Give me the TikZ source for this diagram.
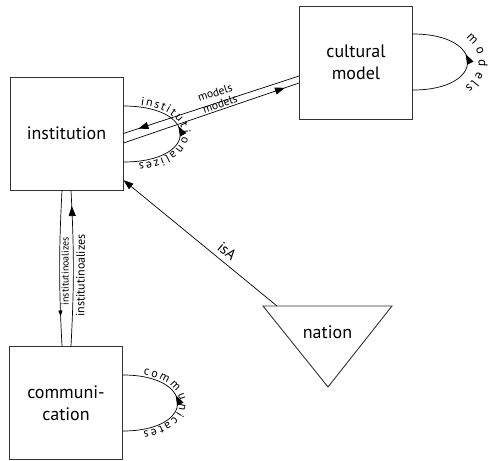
\documentclass[tikz,border=0pt]{standalone}
\usepackage{fontspec}
\setmainfont{PT Sans}
\usetikzlibrary{arrows.meta,decorations.markings,decorations.text}

\begin{document}
\begin{tikzpicture}[x=1pt,y=-1pt,
  box/.style={draw=black!80, line width=0.9pt, minimum width=113pt, minimum height=113pt,
    inner sep=0pt, align=center, font=\fontsize{18}{22}\selectfont},
  conn/.style={draw=black, line width=0.7pt},
  bigtip/.style={postaction={decorate}, decoration={markings,
    mark=at position #1 with {\arrow{Triangle[length=10pt,width=7pt]}}}},
  smalltip/.style={postaction={decorate}, decoration={markings,
    mark=at position #1 with {\arrow{Triangle[length=6pt,width=4pt]}}}},
  lbl/.style={font=\fontsize{11.5}{13}\selectfont, inner sep=1pt},
  looptext/.style n args={4}{decorate, decoration={text along path,
    text={|\fontsize{12}{14}\selectfont|#1},
    text align={left indent=#2, right indent=#3, fit to path}, raise=#4}},
  looptextc/.style n args={2}{decorate, decoration={text along path,
    text={|\fontsize{13}{15}\selectfont|#1},
    text align=center, raise=#2}}
]
\useasboundingbox (0,0) rectangle (491,461);

% concept boxes
\node[box] (inst) at (66.5,133.5) {institution};
\node[box] (cult) at (356,62.5) {cultural\\model};
\node[box] (comm) at (66,403) {communi-\\cation};

% the nation triangle
\coordinate (natL) at (263,306);
\coordinate (natR) at (392,306);
\coordinate (natB) at (328,387);
\draw[black!80, line width=0.9pt] (natL) -- (natR) -- (natB) -- cycle;
\node[font=\fontsize{18}{22}\selectfont, inner sep=0pt] (nation) at (327.5,332) {nation};
\coordinate (isafoot) at (277,306);

% isA
\draw[conn, -{Triangle[length=10pt,width=7pt]}] (isafoot) -- (inst)
  node[font=\fontsize{15}{17}\selectfont, inner sep=1pt, pos=0.37, sloped, above=4pt] {isA};

% models, both ways between institution and cultural model
\draw[conn, bigtip=0.915] ([yshift=-13.5pt]cult.west) -- (inst.east)
  node[lbl, pos=0.46, sloped, above=5pt] {models};
\draw[conn, bigtip=0.92] ([yshift=-9.5pt]inst.east) -- ([yshift=-20.5pt]cult.west)
  node[lbl, pos=0.56, sloped, above=0pt] {models};

% institutinoalizes, both ways between institution and communication
\draw[conn, smalltip=0.81] ([xshift=-4.5pt]inst.south) to[bend right=3]
  node[pos=0.52, rotate=90, anchor=north, inner sep=1.5pt, font=\fontsize{10}{11}\selectfont] {institutinoalizes}
  ([xshift=-4pt]comm.north);
\draw[conn, bigtip=0.9] ([xshift=5pt]comm.north) to[bend right=3]
  node[pos=0.45, sloped, below=2.5pt, inner sep=0pt, font=\fontsize{12}{13}\selectfont] {institutinoalizes}
  ([xshift=4.5pt]inst.south);

% self loops
\draw[conn, bigtip=0.56] ([yshift=-28.5pt]inst.east) .. controls +(76,0) and +(76,0) .. ([yshift=27.5pt]inst.east);
\path[looptext={institutionalizes}{17pt}{15pt}{2pt}] ([yshift=27.5pt]inst.east) .. controls +(76,0) and +(76,0) .. ([yshift=-28.5pt]inst.east);

\draw[conn, bigtip=0.56] ([yshift=-27.5pt]cult.east) .. controls +(73,0) and +(73,0) .. ([yshift=28.5pt]cult.east);
\path[looptextc={models}{11pt}] ([yshift=28.5pt]cult.east) .. controls +(73,0) and +(73,0) .. ([yshift=-27.5pt]cult.east);

\draw[conn, bigtip=0.56] ([yshift=-28pt]comm.east) .. controls +(73,0) and +(73,0) .. ([yshift=28pt]comm.east);
\path[looptext={communicates}{20pt}{20pt}{2pt}] ([yshift=28pt]comm.east) .. controls +(73,0) and +(73,0) .. ([yshift=-28pt]comm.east);
\end{tikzpicture}
\end{document}
